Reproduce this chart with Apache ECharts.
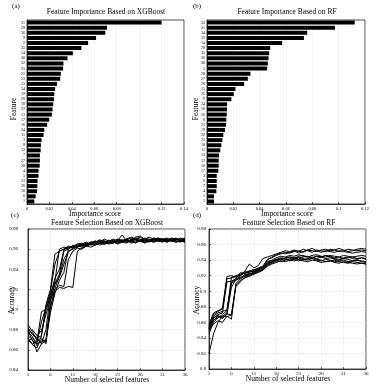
<!DOCTYPE html>
<html><head><meta charset="utf-8">
<script src="https://cdn.jsdelivr.net/npm/echarts/dist/echarts.min.js"></script>
<style>html,body{margin:0;padding:0;background:#fff}#c{width:386px;height:388px}</style>
</head><body><div id="c"></div><script>
// ---- Panel (a): XGBoost feature importance (top to bottom) ----
const xgbFeatures = ['31','29','36','9','2','35','14','30','32','25','21','23','15','34','19','28','18','22','13','17','16','24','11','3','8','12','7','27','20','4','5','33','26','10','6','1'];
const xgbImportance = [0.120,0.0713,0.0698,0.0616,0.0545,0.0485,0.0409,0.0361,0.0325,0.0322,0.0302,0.0296,0.0267,0.0251,0.0243,0.0240,0.0234,0.0228,0.0222,0.0198,0.0180,0.0154,0.0148,0.0130,0.0124,0.0122,0.0115,0.0115,0.0113,0.0103,0.0102,0.0094,0.0092,0.0090,0.0077,0.0065];
// ---- Panel (b): RF feature importance ----
const rfFeatures = ['32','31','34','33','14','29','35','36','30','5','28','27','26','15','25','9','24','16','20','8','21','19','22','23','18','11','13','12','10','17','3','6','7','4','1','2'];
const rfImportance = [0.1122,0.0972,0.0761,0.0736,0.0571,0.0480,0.0472,0.0467,0.0462,0.0457,0.0330,0.0310,0.0282,0.0216,0.0203,0.0185,0.0153,0.0152,0.0150,0.0147,0.0145,0.0137,0.0124,0.0117,0.0109,0.0101,0.0091,0.0089,0.0089,0.0086,0.0074,0.0074,0.0074,0.0071,0.0053,0.0053];
// ---- Panels (c),(d): number of selected features ----
const nSelected = [1,2,3,4,5,6,7,8,9,10,11,12,13,14,15,16,17,18,19,20,21,22,23,24,25,26,27,28,29,30,31,32,33,34,35,36];
// (c) XGBoost accuracy runs
const xgbAcc1 = [0.880,0.876,0.872,0.874,0.905,0.920,0.955,0.958,0.960,0.961,0.962,0.963,0.964,0.966,0.965,0.967,0.966,0.968,0.967,0.966,0.968,0.969,0.970,0.968,0.967,0.969,0.971,0.970,0.968,0.969,0.970,0.969,0.968,0.970,0.969,0.970];
const xgbAcc2 = [0.885,0.878,0.869,0.872,0.866,0.902,0.921,0.933,0.950,0.958,0.960,0.962,0.965,0.964,0.966,0.968,0.967,0.965,0.966,0.968,0.970,0.969,0.967,0.968,0.970,0.972,0.969,0.968,0.970,0.971,0.969,0.970,0.968,0.969,0.971,0.969];
const xgbAcc3 = [0.874,0.870,0.858,0.866,0.880,0.915,0.928,0.960,0.962,0.961,0.963,0.965,0.964,0.966,0.965,0.967,0.969,0.968,0.966,0.967,0.969,0.968,0.970,0.971,0.969,0.968,0.967,0.969,0.970,0.968,0.967,0.969,0.970,0.971,0.969,0.968];
const xgbAcc4 = [0.870,0.866,0.868,0.898,0.900,0.912,0.925,0.932,0.945,0.957,0.961,0.963,0.962,0.964,0.966,0.965,0.967,0.970,0.968,0.967,0.966,0.968,0.969,0.967,0.970,0.969,0.968,0.967,0.969,0.971,0.970,0.968,0.969,0.970,0.968,0.970];
const xgbAcc5 = [0.878,0.873,0.864,0.870,0.868,0.903,0.918,0.922,0.921,0.923,0.922,0.958,0.961,0.963,0.962,0.964,0.966,0.965,0.967,0.969,0.966,0.968,0.970,0.972,0.970,0.968,0.967,0.969,0.968,0.970,0.969,0.967,0.969,0.968,0.967,0.969];
const xgbAcc6 = [0.868,0.872,0.867,0.888,0.902,0.918,0.945,0.958,0.960,0.963,0.962,0.964,0.963,0.965,0.967,0.966,0.964,0.966,0.968,0.970,0.968,0.967,0.966,0.969,0.971,0.970,0.968,0.969,0.967,0.968,0.970,0.971,0.969,0.967,0.968,0.967];
const xgbAcc7 = [0.882,0.875,0.871,0.866,0.869,0.908,0.926,0.935,0.958,0.960,0.964,0.962,0.965,0.967,0.964,0.965,0.968,0.967,0.969,0.967,0.965,0.967,0.969,0.968,0.966,0.969,0.970,0.972,0.970,0.968,0.969,0.968,0.970,0.969,0.970,0.971];
const xgbAcc8 = [0.876,0.880,0.874,0.879,0.895,0.910,0.920,0.924,0.923,0.950,0.958,0.961,0.960,0.963,0.965,0.964,0.966,0.965,0.967,0.966,0.968,0.967,0.969,0.966,0.967,0.968,0.966,0.968,0.967,0.969,0.968,0.970,0.968,0.967,0.969,0.968];
const xgbAcc9 = [0.872,0.865,0.862,0.874,0.900,0.914,0.931,0.940,0.959,0.962,0.961,0.965,0.966,0.964,0.967,0.968,0.966,0.967,0.965,0.966,0.969,0.974,0.968,0.969,0.972,0.973,0.970,0.969,0.971,0.970,0.968,0.969,0.971,0.970,0.969,0.967];
const xgbAcc10 = [0.879,0.869,0.866,0.868,0.870,0.897,0.916,0.929,0.937,0.960,0.963,0.962,0.964,0.963,0.965,0.967,0.969,0.968,0.966,0.968,0.967,0.968,0.967,0.970,0.969,0.968,0.969,0.968,0.970,0.969,0.968,0.967,0.969,0.970,0.968,0.969];
// (d) RF accuracy runs
const rfAcc1 = [0.820,0.845,0.860,0.868,0.872,0.918,0.920,0.922,0.925,0.924,0.927,0.930,0.932,0.941,0.943,0.946,0.948,0.950,0.949,0.951,0.952,0.950,0.953,0.952,0.951,0.953,0.954,0.952,0.953,0.951,0.952,0.954,0.953,0.952,0.953,0.952];
const rfAcc2 = [0.852,0.868,0.872,0.874,0.876,0.912,0.915,0.920,0.926,0.935,0.930,0.933,0.942,0.944,0.946,0.948,0.950,0.952,0.951,0.953,0.951,0.954,0.952,0.950,0.953,0.952,0.951,0.954,0.953,0.955,0.953,0.951,0.952,0.954,0.955,0.954];
const rfAcc3 = [0.856,0.872,0.875,0.878,0.919,0.920,0.918,0.921,0.923,0.926,0.928,0.929,0.931,0.940,0.944,0.947,0.949,0.948,0.950,0.952,0.949,0.951,0.953,0.955,0.952,0.950,0.952,0.951,0.950,0.952,0.951,0.950,0.949,0.950,0.951,0.950];
const rfAcc4 = [0.848,0.862,0.868,0.866,0.870,0.905,0.915,0.918,0.920,0.922,0.925,0.927,0.930,0.936,0.938,0.939,0.941,0.942,0.940,0.943,0.944,0.942,0.941,0.943,0.945,0.944,0.942,0.943,0.941,0.940,0.942,0.941,0.939,0.940,0.938,0.937];
const rfAcc5 = [0.855,0.865,0.870,0.872,0.912,0.913,0.916,0.924,0.922,0.925,0.926,0.928,0.929,0.937,0.939,0.941,0.940,0.943,0.944,0.942,0.945,0.946,0.944,0.943,0.945,0.944,0.946,0.945,0.943,0.944,0.942,0.943,0.944,0.942,0.943,0.942];
const rfAcc6 = [0.850,0.858,0.862,0.860,0.868,0.864,0.910,0.916,0.919,0.921,0.924,0.926,0.927,0.935,0.937,0.940,0.942,0.941,0.939,0.941,0.943,0.940,0.942,0.944,0.941,0.940,0.938,0.939,0.940,0.938,0.937,0.936,0.938,0.937,0.936,0.935];
const rfAcc7 = [0.853,0.863,0.866,0.868,0.867,0.870,0.908,0.914,0.917,0.920,0.923,0.925,0.928,0.934,0.938,0.941,0.943,0.942,0.944,0.943,0.941,0.944,0.945,0.943,0.942,0.944,0.946,0.944,0.942,0.941,0.943,0.944,0.942,0.941,0.943,0.941];
const rfAcc8 = [0.845,0.860,0.866,0.870,0.875,0.910,0.914,0.917,0.921,0.923,0.922,0.926,0.928,0.933,0.936,0.939,0.938,0.940,0.942,0.941,0.939,0.941,0.940,0.942,0.940,0.939,0.941,0.940,0.938,0.939,0.940,0.938,0.939,0.940,0.939,0.938];
const rfAcc9 = [0.858,0.870,0.874,0.877,0.916,0.917,0.919,0.920,0.924,0.926,0.925,0.929,0.931,0.938,0.940,0.943,0.945,0.944,0.946,0.945,0.947,0.945,0.944,0.946,0.947,0.945,0.944,0.946,0.945,0.944,0.946,0.945,0.944,0.945,0.946,0.945];
const rfAcc10 = [0.851,0.866,0.869,0.865,0.871,0.869,0.906,0.912,0.918,0.919,0.922,0.924,0.927,0.932,0.935,0.937,0.939,0.938,0.940,0.939,0.941,0.939,0.938,0.940,0.939,0.937,0.938,0.939,0.937,0.936,0.938,0.937,0.936,0.935,0.936,0.935];
const xgbRuns = [xgbAcc1,xgbAcc2,xgbAcc3,xgbAcc4,xgbAcc5,xgbAcc6,xgbAcc7,xgbAcc8,xgbAcc9,xgbAcc10];
const rfRuns = [rfAcc1,rfAcc2,rfAcc3,rfAcc4,rfAcc5,rfAcc6,rfAcc7,rfAcc8,rfAcc9,rfAcc10];

const FONT = "'Liberation Serif','Times New Roman',serif";
const gridLine = {show:true, lineStyle:{color:'#d8d8d8', type:[1,1], width:0.6}};
const axLine = {show:true, lineStyle:{color:'#000', width:0.7}};
const tick = {show:true, inside:true, length:2, lineStyle:{color:'#000', width:0.6}};

function valX(gi, max, interval, margin){
  return {type:'value', gridIndex:gi, min:0, max:max, interval:interval,
    axisLine:axLine, axisTick:tick, splitLine:gridLine,
    axisLabel:{fontSize:4.5, color:'#000', fontFamily:FONT, margin:margin, showMaxLabel:true, showMinLabel:true, hideOverlap:false}};
}
function catY(gi, cats, margin){
  return {type:'category', gridIndex:gi, data:cats, inverse:true,
    axisLine:axLine, axisTick:{show:false}, splitLine:{show:false},
    axisLabel:{fontSize:4, color:'#000', fontFamily:FONT, interval:0, margin:margin, hideOverlap:false}};
}
function numX(gi, margin){
  return {type:'value', gridIndex:gi, min:1, max:36, interval:5,
    axisLine:axLine, axisTick:tick, splitLine:gridLine,
    axisLabel:{fontSize:5, color:'#000', fontFamily:FONT, margin:margin, showMinLabel:true, showMaxLabel:true, hideOverlap:false}};
}
function accY(gi, min, max, margin){
  return {type:'value', gridIndex:gi, min:min, max:max, interval:0.02,
    axisLine:axLine, axisTick:tick, splitLine:gridLine,
    axisLabel:{fontSize:5, color:'#000', fontFamily:FONT, margin:margin, showMinLabel:true, showMaxLabel:true, hideOverlap:false}};
}

const series = [
  {type:'bar', xAxisIndex:0, yAxisIndex:0, data:xgbImportance, barCategoryGap:'22%', itemStyle:{color:'#000'}, silent:true},
  {type:'bar', xAxisIndex:1, yAxisIndex:1, data:rfImportance, barCategoryGap:'22%', itemStyle:{color:'#000'}, silent:true}
];
xgbRuns.forEach(r => series.push({type:'line', xAxisIndex:2, yAxisIndex:2, data:nSelected.map((n,i)=>[n,r[i]]),
  showSymbol:false, lineStyle:{color:'#000', width:1}, silent:true}));
rfRuns.forEach(r => series.push({type:'line', xAxisIndex:3, yAxisIndex:3, data:nSelected.map((n,i)=>[n,r[i]]),
  showSymbol:false, lineStyle:{color:'#000', width:1}, silent:true}));

function txt(s, x, y, size, rot){
  const o = {type:'text', x:x, y:y, silent:true,
    style:{text:s, fill:'#000', font:size+'px '+FONT, align:'center', verticalAlign:'middle', textAlign:'center', textVerticalAlign:'middle'}};
  if (rot) o.rotation = rot;
  return o;
}

const chart = echarts.init(document.getElementById('c'), null, {renderer:'canvas'});
chart.setOption({
  animation:false,
  backgroundColor:'#fff',
  grid:[
    {left:27, top:20, width:157, height:184, show:true, borderColor:'#000', borderWidth:0.7},
    {left:207, top:20, width:158, height:184, show:true, borderColor:'#000', borderWidth:0.7},
    {left:28, top:229, width:157, height:141, show:true, borderColor:'#000', borderWidth:0.7},
    {left:209, top:229, width:157, height:140, show:true, borderColor:'#000', borderWidth:0.7}
  ],
  xAxis:[valX(0,0.14,0.02,2), valX(1,0.12,0.02,2), numX(2,2), numX(3,2)],
  yAxis:[catY(0,xgbFeatures,2), catY(1,rfFeatures,2), accY(2,0.84,0.98,10), accY(3,0.8,0.98,3)],
  series:series,
  graphic:[
    txt('(a)', 16, 6, 7),
    txt('(b)', 197, 6, 7),
    txt('(c)', 15, 215, 7),
    txt('(d)', 197, 215, 7),
    txt('Feature Importance Based on XGBoost', 106, 12, 7.5),
    txt('Feature Importance Based on RF', 287, 12, 7.5),
    txt('Feature Selection Based on XGBoost', 107, 223, 7.5),
    txt('Feature Selection Based on RF', 289, 223, 7.5),
    txt('Importance score', 95, 214, 7.5),
    txt('Importance score', 287, 214, 7.5),
    txt('Number of selected features', 107, 380, 7.5),
    txt('Number of selected features', 288, 379, 7.5),
    txt('Feature', 14, 109, 7.5, Math.PI/2),
    txt('Feature', 196, 109, 7.5, Math.PI/2),
    txt('Accuracy', 12, 300, 7.5, Math.PI/2),
    txt('Accuracy', 197, 300, 7.5, Math.PI/2)
  ]
});
</script></body></html>
